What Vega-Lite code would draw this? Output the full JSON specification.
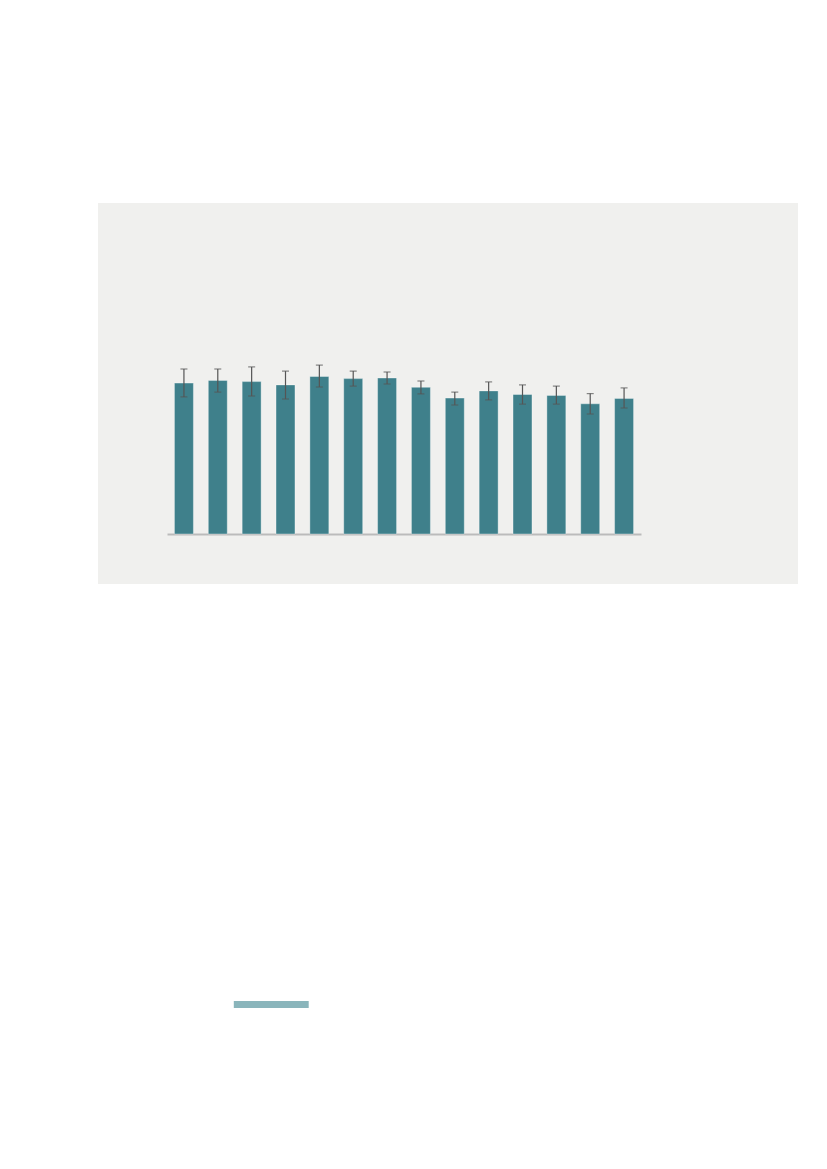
{
  "$schema": "https://vega.github.io/schema/vega-lite/v6.json",
  "background": "#ffffff",
  "padding": {"left": 98, "top": 203, "right": 29, "bottom": 0},
  "spacing": 417,
  "datasets": {
    "bars": [
      {"g": "01", "value": 50.3, "lo": 45.7, "hi": 55.0},
      {"g": "02", "value": 51.2, "lo": 47.3, "hi": 55.0},
      {"g": "03", "value": 50.8, "lo": 46.0, "hi": 55.7},
      {"g": "04", "value": 49.7, "lo": 45.0, "hi": 54.3},
      {"g": "05", "value": 52.5, "lo": 49.0, "hi": 56.3},
      {"g": "06", "value": 51.8, "lo": 49.3, "hi": 54.3},
      {"g": "07", "value": 52.0, "lo": 50.0, "hi": 54.0},
      {"g": "08", "value": 48.9, "lo": 46.7, "hi": 51.0},
      {"g": "09", "value": 45.3, "lo": 43.0, "hi": 47.3},
      {"g": "10", "value": 47.7, "lo": 44.7, "hi": 50.7},
      {"g": "11", "value": 46.5, "lo": 43.3, "hi": 49.7},
      {"g": "12", "value": 46.2, "lo": 43.3, "hi": 49.3},
      {"g": "13", "value": 43.4, "lo": 40.0, "hi": 46.8},
      {"g": "14", "value": 45.2, "lo": 42.0, "hi": 48.7}
    ],
    "swatch": [{"start": 19.4, "end": 30.1}]
  },
  "vconcat": [
    {
      "width": 700,
      "height": 381,
      "view": {"fill": "#f0f0ee", "stroke": null},
      "data": {"name": "bars"},
      "encoding": {
        "x": {
          "field": "g",
          "type": "nominal",
          "sort": null,
          "scale": {"range": [69, 543], "paddingInner": 0.44, "paddingOuter": 0.22},
          "axis": {
            "title": null,
            "labels": false,
            "ticks": false,
            "domainColor": "#bbbbbb",
            "domainWidth": 2,
            "offset": -50
          }
        }
      },
      "layer": [
        {
          "mark": {"type": "bar", "color": "#3f808b", "stroke": "#ffffff", "strokeOpacity": 0.35, "strokeWidth": 1},
          "encoding": {
            "y": {
              "field": "value",
              "type": "quantitative",
              "scale": {"domain": [0, 100], "range": [331, 31]},
              "axis": null
            }
          }
        },
        {
          "mark": {"type": "rule", "color": "#555555", "strokeWidth": 1.2},
          "encoding": {
            "y": {"field": "lo", "type": "quantitative", "scale": {"domain": [0, 100], "range": [331, 31]}, "axis": null},
            "y2": {"field": "hi"}
          }
        },
        {
          "mark": {"type": "tick", "color": "#555555", "size": 7, "thickness": 1.2},
          "encoding": {
            "y": {"field": "lo", "type": "quantitative", "scale": {"domain": [0, 100], "range": [331, 31]}, "axis": null}
          }
        },
        {
          "mark": {"type": "tick", "color": "#555555", "size": 7, "thickness": 1.2},
          "encoding": {
            "y": {"field": "hi", "type": "quantitative", "scale": {"domain": [0, 100], "range": [331, 31]}, "axis": null}
          }
        }
      ]
    },
    {
      "width": 700,
      "height": 7,
      "view": {"stroke": null},
      "data": {"name": "swatch"},
      "mark": {"type": "bar", "color": "#8ab5bb"},
      "encoding": {
        "x": {"field": "start", "type": "quantitative", "scale": {"domain": [0, 100]}, "axis": null},
        "x2": {"field": "end"},
        "y": {"datum": 0, "type": "quantitative", "scale": {"domain": [0, 1]}, "axis": null},
        "y2": {"datum": 1}
      }
    }
  ]
}
